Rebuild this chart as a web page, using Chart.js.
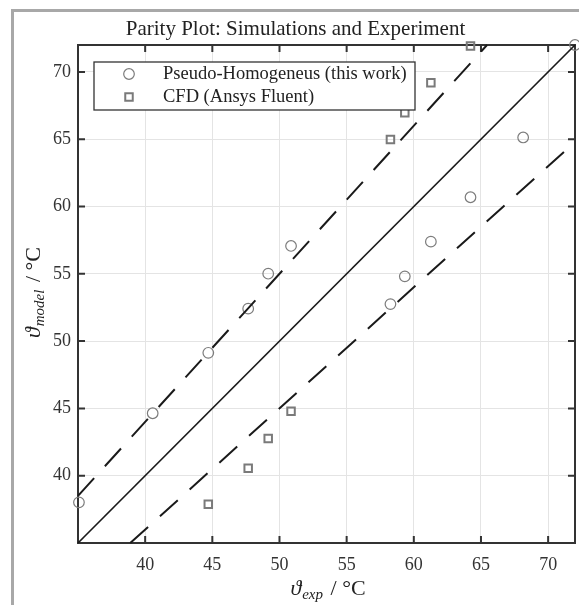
<!DOCTYPE html>
<html><head><meta charset="utf-8">
<script src="https://cdn.jsdelivr.net/npm/chart.js@4"></script>
<style>
html,body{margin:0;padding:0;background:#fff;overflow:hidden;}
canvas{display:block;}
</style></head>
<body>
<canvas id="c" width="579" height="605"></canvas>
<script>
// ---- data ----
const expTemps       = [35.07, 40.56, 44.70, 47.67, 49.16, 50.86, 58.26, 59.33, 61.27, 64.22, 68.14, 72.00];
const pseudoHomModel = [38.02, 44.64, 49.13, 52.41, 55.01, 57.07, 52.75, 54.81, 57.39, 60.69, 65.13, 72.00];
const cfdExp         = [44.70, 47.67, 49.16, 50.86, 58.26, 59.33, 61.27, 64.22];
const cfdModel       = [37.87, 40.55, 42.76, 44.79, 64.98, 66.96, 69.20, 71.93];
const parityLineX    = [35, 72];
const parityLineY    = [35, 72];
const upperBandX     = [35, 65.45];   // +10 %
const upperBandY     = [38.5, 72];
const lowerBandX     = [38.89, 72];   // -10 %
const lowerBandY     = [35, 64.8];
const tickValues     = [40, 45, 50, 55, 60, 65, 70];
const axisMin = 35, axisMax = 72;
const seriesLabels   = ['Pseudo-Homogeneus (this work)', 'CFD (Ansys Fluent)'];
const titleText      = 'Parity Plot: Simulations and Experiment';

const pts = (xs, ys) => xs.map((x, i) => ({x, y: ys[i]}));
const SERIF = '"Liberation Serif", "DejaVu Serif", serif';

const decor = {
  id: 'decor',
  beforeDraw(chart) {
    const ctx = chart.ctx;
    ctx.save();
    ctx.fillStyle = '#fff';
    ctx.fillRect(0, 0, chart.width, chart.height);
    ctx.strokeStyle = '#a8a8a8';
    ctx.lineWidth = 3;
    ctx.beginPath();
    ctx.moveTo(12.5, chart.height + 5);
    ctx.lineTo(12.5, 10.5);
    ctx.lineTo(chart.width + 5, 10.5);
    ctx.stroke();
    ctx.restore();
  },
  beforeDatasetsDraw(chart) {
    const ctx = chart.ctx, a = chart.chartArea;
    const xs = chart.scales.x, ys = chart.scales.y;
    ctx.save();
    ctx.strokeStyle = '#333';
    ctx.lineWidth = 2;
    ctx.strokeRect(a.left, a.top, a.right - a.left, a.bottom - a.top);
    const L = 7;
    ctx.beginPath();
    tickValues.forEach(v => {
      const px = xs.getPixelForValue(v);
      ctx.moveTo(px, a.bottom); ctx.lineTo(px, a.bottom - L);
      ctx.moveTo(px, a.top); ctx.lineTo(px, a.top + L);
      const py = ys.getPixelForValue(v);
      ctx.moveTo(a.left, py); ctx.lineTo(a.left + L, py);
      ctx.moveTo(a.right, py); ctx.lineTo(a.right - L, py);
    });
    ctx.stroke();
    ctx.restore();
  },
  afterDraw(chart) {
    const ctx = chart.ctx, a = chart.chartArea;
    ctx.save();
    ctx.fillStyle = '#222';
    // title
    ctx.font = '21px ' + SERIF;
    ctx.textAlign = 'center';
    ctx.textBaseline = 'alphabetic';
    ctx.fillText(titleText, 295.5, 35);

    // axis title helper: theta with subscript then " / °C"
    function axisTitle(sub) {
      const big = 'italic 22px ' + SERIF, small = 'italic 15px ' + SERIF, reg = '22px ' + SERIF;
      ctx.font = big; const w1 = ctx.measureText('\u03D1').width;
      ctx.font = small; const w2 = ctx.measureText(sub).width;
      ctx.font = reg; const w3 = ctx.measureText(' / \u00B0C').width;
      const tot = w1 + w2 + w3;
      let x = -tot / 2;
      ctx.textAlign = 'left';
      ctx.font = big; ctx.fillText('\u03D1', x, 0); x += w1 + 1;
      ctx.font = small; ctx.fillText(sub, x, 4); x += w2 + 2;
      ctx.font = reg; ctx.fillText(' / \u00B0C', x, 0);
    }
    ctx.save();
    ctx.translate((a.left + a.right) / 2, 595);
    axisTitle('exp');
    ctx.restore();
    ctx.save();
    ctx.translate(40, (a.top + a.bottom) / 2);
    ctx.rotate(-Math.PI / 2);
    axisTitle('model');
    ctx.restore();

    // legend
    const bx = 94, by = 62, bw = 321, bh = 48;
    ctx.fillStyle = '#fff';
    ctx.fillRect(bx, by, bw, bh);
    ctx.strokeStyle = '#333';
    ctx.lineWidth = 1.3;
    ctx.strokeRect(bx, by, bw, bh);
    const rows = [74, 97];
    chart.data.datasets.filter(d => d.isSeries).forEach((d, i) => {
      const y = rows[i];
      ctx.strokeStyle = d.borderColor;
      ctx.lineWidth = d.borderWidth;
      ctx.beginPath();
      if (d.pointStyle === 'circle') {
        ctx.arc(129, y, d.pointRadius, 0, Math.PI * 2);
      } else {
        const s = d.pointRadius * Math.SQRT1_2;
        ctx.rect(129 - s, y - s, 2 * s, 2 * s);
      }
      ctx.stroke();
      ctx.fillStyle = '#222';
      ctx.font = '18.5px ' + SERIF;
      ctx.textAlign = 'left';
      ctx.textBaseline = 'middle';
      ctx.fillText(d.label, 163, y);
    });
    ctx.restore();
  }
};

new Chart(document.getElementById('c'), {
  type: 'scatter',
  data: {
    datasets: [
      {label: 'parity', data: pts(parityLineX, parityLineY), showLine: true, borderColor: '#1a1a1a', borderWidth: 1.7, pointRadius: 0, clip: false},
      {label: '+10%', data: pts(upperBandX, upperBandY), showLine: true, borderColor: '#1a1a1a', borderWidth: 2, borderDash: [24, 16], pointRadius: 0, clip: false},
      {label: '-10%', data: pts(lowerBandX, lowerBandY), showLine: true, borderColor: '#1a1a1a', borderWidth: 2, borderDash: [24, 16], pointRadius: 0, clip: false},
      {label: seriesLabels[0], isSeries: true, data: pts(expTemps, pseudoHomModel), pointStyle: 'circle', pointRadius: 5.3, borderWidth: 1.2, borderColor: '#7c7c7c', backgroundColor: 'rgba(0,0,0,0)', clip: false},
      {label: seriesLabels[1], isSeries: true, data: pts(cfdExp, cfdModel), pointStyle: 'rect', pointRadius: 5.3, borderWidth: 2, borderColor: '#7a7a7a', backgroundColor: 'rgba(0,0,0,0)', clip: false}
    ]
  },
  options: {
    responsive: false,
    animation: false,
    devicePixelRatio: 1,
    events: [],
    layout: {autoPadding: false, padding: {top: 45, right: 4, left: 0, bottom: 0}},
    plugins: {legend: {display: false}, tooltip: {enabled: false}, title: {display: false}},
    elements: {point: {hoverRadius: 0}},
    scales: {
      x: {
        type: 'linear', min: axisMin, max: axisMax,
        afterBuildTicks: s => { s.ticks = tickValues.map(v => ({value: v})); },
        afterFit: s => { s.height = 62; s.paddingLeft = 0; s.paddingRight = 0; },
        grid: {color: '#e4e4e4', lineWidth: 1, drawTicks: false},
        border: {display: false},
        ticks: {padding: 11, color: '#333', font: {family: SERIF, size: 18}, maxRotation: 0}
      },
      y: {
        type: 'linear', min: axisMin, max: axisMax,
        afterBuildTicks: s => { s.ticks = tickValues.map(v => ({value: v})); },
        afterFit: s => { s.width = 78; s.paddingTop = 0; s.paddingBottom = 0; },
        grid: {color: '#e4e4e4', lineWidth: 1, drawTicks: false},
        border: {display: false},
        ticks: {padding: 7, color: '#333', font: {family: SERIF, size: 18}}
      }
    }
  },
  plugins: [decor]
});
</script>
</body></html>
